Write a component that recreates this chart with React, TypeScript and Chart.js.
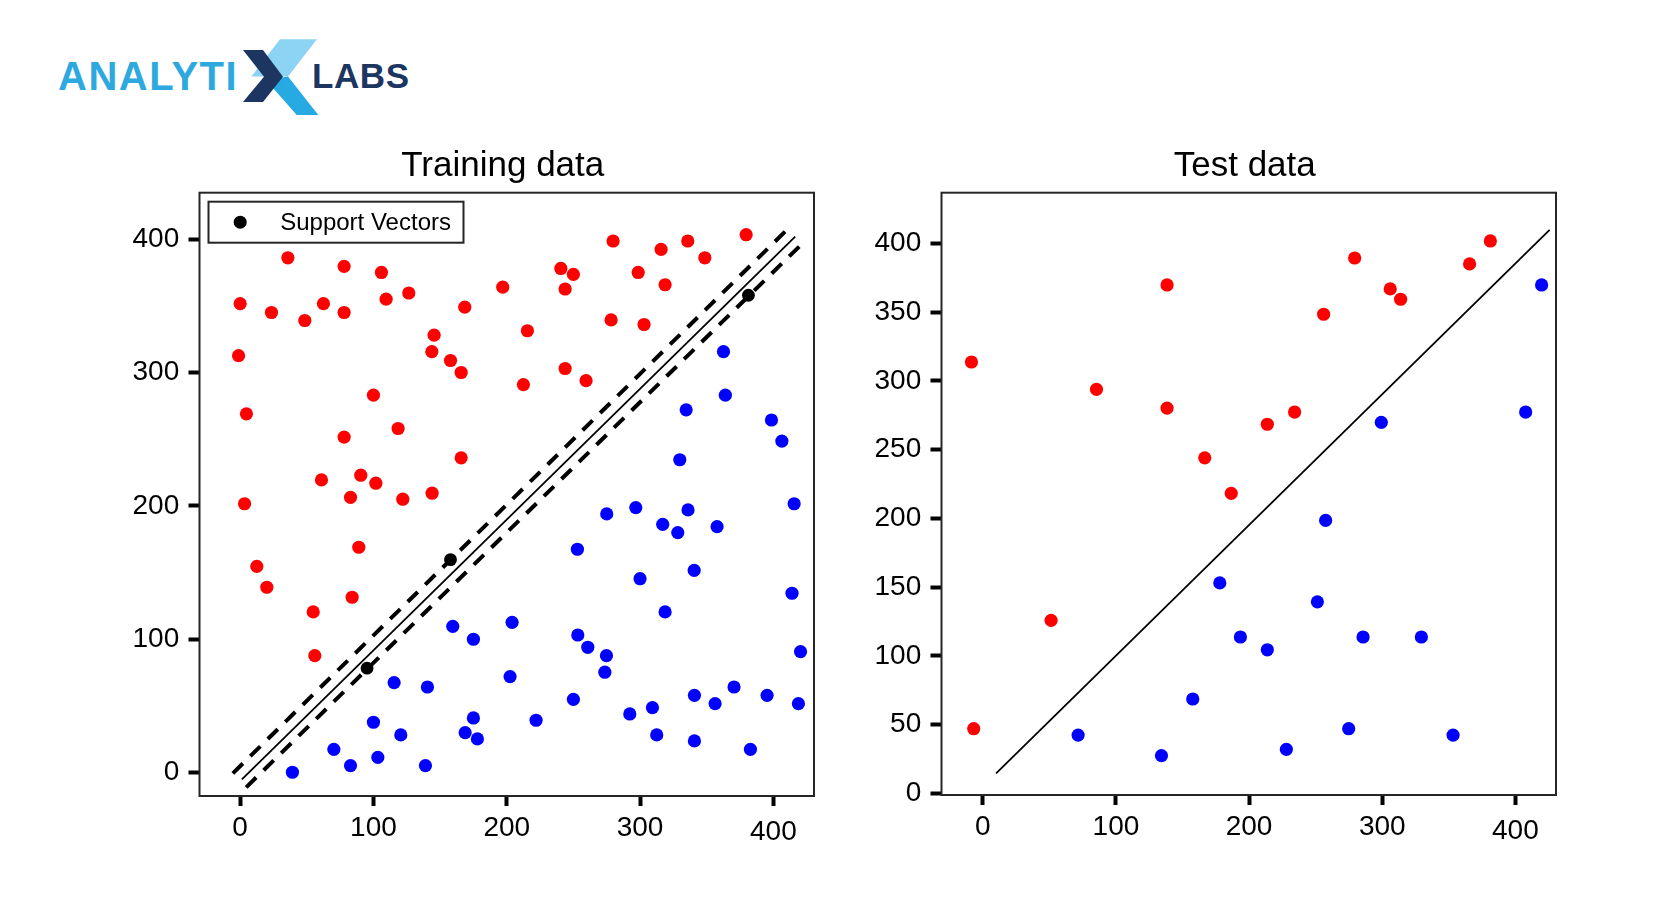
import React, { useEffect, useRef } from "react";
import { Chart, registerables } from "chart.js";
Chart.register(...registerables);

const FONT = "'Liberation Sans', Arial, Helvetica, sans-serif";

// ---------- DATA ----------
const trainXTicks = [0, 100, 200, 300, 400];
const trainYTicks = [0, 100, 200, 300, 400];
const testXTicks = [0, 100, 200, 300, 400];
const testYTicks = [0, 50, 100, 150, 200, 250, 300, 350, 400];

const trainRed: number[][] = [
  [-1.2, 312.6], [0, 351.6], [4.7, 269], [3.3, 201.6], [12.5, 154.7], [20, 139],
  [23.5, 345], [35.8, 386], [48.5, 339], [62.5, 351.6], [61, 219.5], [78, 379.6],
  [78, 345], [78, 251.6], [82.8, 206.4], [84, 131.5], [54.8, 120.5], [56, 87.7],
  [89, 169], [90.5, 223], [100, 283], [101.8, 217], [106, 375], [109.5, 355],
  [118.5, 258], [122, 205], [126.5, 359.6], [144, 209.5], [145.5, 328], [143.8, 315.6],
  [157.8, 309], [165.8, 300], [168.5, 349], [165.8, 236], [197, 364], [215.5, 331.3],
  [212.5, 290.9], [240.6, 378], [243.8, 362.6], [250, 373.6], [243.8, 303], [259.5, 293.9],
  [279.8, 398.6], [278.3, 339.4], [298.6, 375], [303, 336], [315.8, 392.3], [318.8, 365.8],
  [335.8, 398.6], [348.6, 386], [379.6, 403.3],
];

const trainBlue: number[][] = [
  [39.2, 0.3], [70.3, 17.5], [82.8, 5.3], [103.3, 11.5], [100, 37.8], [120.5, 28.3],
  [115.5, 67.5], [139, 5.3], [140.5, 64.2], [159.5, 109.7], [175, 100], [175, 41],
  [168.8, 30], [178, 25.3], [204, 112.7], [202.5, 72], [222, 39.3], [250, 55],
  [253.3, 103.2], [260.8, 94], [274.8, 87.7], [273.6, 75.3], [253, 167.5], [275, 194],
  [296.8, 198.7], [300, 145.4], [317, 186.2], [328.3, 180], [336, 197], [318.8, 120.5],
  [340.6, 151.7], [357.8, 184.4], [292.3, 44], [309.3, 48.7], [312.5, 28.3], [340.8, 58],
  [340.8, 23.8], [356.3, 51.7], [370.5, 64.2], [382.8, 17.5], [395.3, 58], [418.8, 51.7],
  [420.4, 90.7], [414, 134.5], [415.6, 201.6], [329.8, 234.6], [334.6, 272], [362.6, 315.6],
  [364, 283], [398.6, 264.4], [406.4, 248.6],
];

const supportVectors: number[][] = [[95.2, 78.3], [157.8, 159.7], [381.3, 357.9]];

const marginUpper: number[][] = [[-5.5, -0.5], [410, 406.8]];
const decisionLine: number[][] = [[1.3, -5], [416.4, 401.8]];
const marginLower: number[][] = [[4.5, -11], [420, 395]];

const testRed: number[][] = [
  [-8.5, 313.7], [-6.8, 47], [51.3, 125.8], [85.4, 293.8], [138.4, 369.7], [138.4, 280.2],
  [166.7, 244], [186.6, 218.2], [213.7, 268.4], [234.2, 277.3], [256, 348.4], [279.3, 389.3],
  [306, 366.8], [313.8, 359.3], [365.6, 385], [381.2, 401.7],
];

const testBlue: number[][] = [
  [71.6, 42.4], [134.2, 27.4], [157.7, 68.6], [178, 153], [193.5, 113.7], [213.7, 104.4],
  [228, 32], [251.3, 139.3], [257.5, 198.5], [274.8, 47], [285.6, 113.7], [299.3, 269.8],
  [329.4, 113.7], [353.2, 42.4], [407.7, 277.3], [419.7, 369.7],
];

const testLine: number[][] = [[10, 14.5], [425.7, 409.7]];

// ---------- HELPERS ----------
const pts = (a: number[][]) => a.map(([x, y]) => ({ x, y }));

const framePlugin = {
  id: "frameBox",
  afterDatasetsDraw(chart: any) {
    const { ctx, chartArea: a } = chart;
    ctx.save();
    ctx.strokeStyle = "#262626";
    ctx.lineWidth = 2;
    ctx.strokeRect(a.left, a.top, a.right - a.left, a.bottom - a.top);
    ctx.restore();
  },
};

const centerTitlePlugin = {
  id: "centerTitle",
  afterLayout(chart: any) {
    const tb = chart.titleBlock;
    if (tb) {
      tb.left = chart.chartArea.left - 4;
      tb.right = chart.chartArea.right - 4;
      tb.width = tb.right - tb.left;
    }
  },
};

const svLegendPlugin = {
  id: "svLegend",
  afterDraw(chart: any, _args: any, opts: any) {
    if (!opts || !opts.show) return;
    const { ctx, chartArea: a } = chart;
    const ds = chart.data.datasets[opts.datasetIndex];
    const x0 = a.left + 9;
    const y0 = a.top + 9;
    const w = 255;
    const h = 41;
    ctx.save();
    ctx.fillStyle = "#fff";
    ctx.fillRect(x0, y0, w, h);
    ctx.strokeStyle = "#262626";
    ctx.lineWidth = 2;
    ctx.strokeRect(x0, y0, w, h);
    ctx.fillStyle = "#000";
    ctx.beginPath();
    ctx.arc(a.left + 40.7, y0 + h / 2, 6.5, 0, Math.PI * 2);
    ctx.fill();
    ctx.font = `24px ${FONT}`;
    ctx.textBaseline = "middle";
    ctx.textAlign = "left";
    ctx.fillText(ds.label, a.left + 80.7, y0 + h / 2 + 1);
    ctx.restore();
  },
};

function axis(min: number, max: number, ticks: number[], horizontal: boolean, size: number) {
  return {
    type: "linear" as const,
    min,
    max,
    afterBuildTicks: (s: any) => {
      s.ticks = ticks.map((v) => ({ value: v }));
    },
    afterFit: (s: any) => {
      if (horizontal) s.height = size;
      else s.width = size;
    },
    ticks: {
      font: (c: any) => ({
        size: 28,
        family: FONT,
        lineHeight: horizontal && c.tick && c.tick.value === 400 ? 1.51 : 1.2,
      }),
      color: "#000",
      padding: horizontal ? 5 : 9.3,
    },
    grid: {
      display: true,
      drawOnChartArea: false,
      drawTicks: true,
      tickLength: horizontal ? 10 : 11,
      tickWidth: 4,
      tickColor: "#000",
    },
    border: { display: false },
  };
}

function pointSet(label: string, data: number[][], color: string, r = 6.6) {
  return {
    label,
    data: pts(data),
    backgroundColor: color,
    borderColor: color,
    borderWidth: 0,
    pointRadius: r,
    pointHoverRadius: r,
    showLine: false,
  };
}

function lineSet(label: string, data: number[][], width: number, dash: number[]) {
  return {
    label,
    data: pts(data),
    showLine: true,
    borderColor: "#000",
    backgroundColor: "#000",
    borderWidth: width,
    borderDash: dash,
    borderCapStyle: "butt",
    pointRadius: 0,
    fill: false,
  };
}

function ChartCanvas({ left, width, height, config }: any) {
  const ref = useRef<HTMLCanvasElement | null>(null);
  useEffect(() => {
    if (!ref.current) return;
    const chart = new Chart(ref.current, config);
    return () => chart.destroy();
  }, []);
  return (
    <canvas
      ref={ref}
      width={width}
      height={height}
      style={{ position: "absolute", left, top: 0, width, height }}
    />
  );
}

const titleOpts = (text: string) => ({
  display: true,
  text,
  color: "#000",
  font: { size: 35, family: FONT, weight: "normal", lineHeight: 1.2 },
  padding: { top: 145.7, bottom: 5 },
});

const trainConfig: any = {
  type: "scatter",
  data: {
    datasets: [
      pointSet("Support Vectors", supportVectors, "#000000", 6.4),
      pointSet("Class 1", trainRed, "#ff0000"),
      pointSet("Class 0", trainBlue, "#0000ff"),
      lineSet("Upper margin", marginUpper, 4, [14, 10.5]),
      lineSet("Decision boundary", decisionLine, 1.8, []),
      lineSet("Lower margin", marginLower, 4, [14, 10.5]),
    ],
  },
  options: {
    responsive: false,
    animation: false,
    events: [],
    devicePixelRatio: 1,
    layout: { padding: { left: 0, right: 20, top: 0, bottom: 0 } },
    scales: {
      x: axis(-30.5, 430.5, trainXTicks, true, 74),
      y: axis(-17.5, 434.8, trainYTicks, false, 199.5),
    },
    plugins: {
      legend: { display: false },
      tooltip: { enabled: false },
      title: titleOpts("Training data"),
      svLegend: { show: true, datasetIndex: 0 },
    },
  },
  plugins: [framePlugin, centerTitlePlugin, svLegendPlugin],
};

const testConfig: any = {
  type: "scatter",
  data: {
    datasets: [
      pointSet("Class 1", testRed, "#ff0000"),
      pointSet("Class 0", testBlue, "#0000ff"),
      lineSet("Decision boundary", testLine, 1.8, []),
    ],
  },
  options: {
    responsive: false,
    animation: false,
    events: [],
    devicePixelRatio: 1,
    layout: { padding: { left: 0, right: 112, top: 0, bottom: 0 } },
    scales: {
      x: axis(-31, 430.5, testXTicks, true, 75),
      y: axis(-1.2, 436.8, testYTicks, false, 107.5),
    },
    plugins: {
      legend: { display: false },
      tooltip: { enabled: false },
      title: titleOpts("Test data"),
      svLegend: { show: false },
    },
  },
  plugins: [framePlugin, centerTitlePlugin, svLegendPlugin],
};

function Logo() {
  return (
    <>
      <svg
        width={1668}
        height={130}
        style={{ position: "absolute", left: 0, top: 0 }}
      >
        <polygon points="280,39.3 317,39.3 288,76.5 251.3,76.5" fill="#8dd3f3" />
        <polygon points="266,80 288,76.5 318.3,115 296.7,115" fill="#27aae1" />
        <polygon points="243,50 263,50 283,76.7 263,102 243,102 264,76.7" fill="#1d3561" />
      </svg>
      <span
        style={{
          position: "absolute",
          left: 58,
          top: 56,
          fontFamily: FONT,
          fontWeight: "bold",
          fontSize: 40,
          lineHeight: "40px",
          letterSpacing: 1.5,
          color: "#2ea9e0",
          whiteSpace: "nowrap",
        }}
      >
        ANALYTI
      </span>
      <span
        style={{
          position: "absolute",
          left: 312,
          top: 58,
          fontFamily: FONT,
          fontWeight: "bold",
          fontSize: 35,
          lineHeight: "35px",
          letterSpacing: 0.6,
          color: "#1d3561",
          whiteSpace: "nowrap",
        }}
      >
        LABS
      </span>
    </>
  );
}

export default function App() {
  return (
    <div
      style={{
        position: "absolute",
        left: 0,
        top: 0,
        width: 1668,
        height: 903,
        background: "#fff",
        overflow: "hidden",
      }}
    >
      <Logo />
      <ChartCanvas left={0} width={834} height={870} config={trainConfig} />
      <ChartCanvas left={834} width={834} height={870} config={testConfig} />
    </div>
  );
}
